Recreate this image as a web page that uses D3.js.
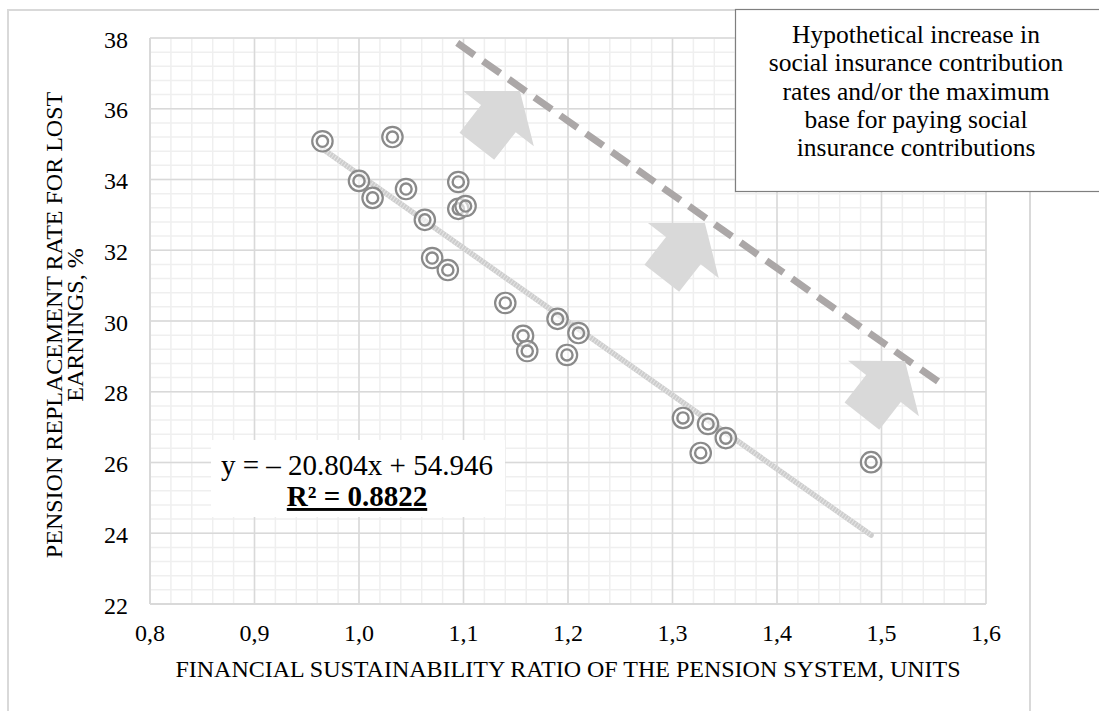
<!DOCTYPE html>
<html>
<head>
<meta charset="utf-8">
<script src="https://cdn.jsdelivr.net/npm/d3@7"></script>
<style>
  html, body { margin: 0; padding: 0; background: #fff; }
  svg { display: block; }
  text { font-family: "Liberation Serif", "Times New Roman", serif; fill: #000; }
</style>
</head>
<body>
<svg id="chart" width="1099" height="711"></svg>
<script>
// Financial sustainability ratio (x) vs pension replacement rate (y)
const sustainability = [0.965, 1.032, 1.000, 1.013, 1.045, 1.063, 1.095, 1.095, 1.102, 1.070, 1.085,
                        1.140, 1.157, 1.161, 1.190, 1.210, 1.199, 1.310, 1.334, 1.351, 1.327, 1.490];
const replacement    = [35.08, 35.20, 33.96, 33.48, 33.73, 32.86, 33.93, 33.17, 33.25, 31.78, 31.44,
                        30.51, 29.58, 29.15, 30.06, 29.66, 29.04, 27.26, 27.09, 26.69, 26.27, 26.01];

// Linear fit reported on the chart
const fitSlope = -20.804;
const fitIntercept = 54.946;
const fitR2 = 0.8822;

// Shifted frontier (hypothetical increase in contributions)
const frontierX = [1.094, 1.556];
const frontierY = [37.86, 28.25];

// Tips of the block arrows pointing towards the frontier
const arrowTipX = [1.154, 1.331, 1.5225];
const arrowTipY = [36.50, 32.77, 28.87];

const xTicks = [0.8, 0.9, 1.0, 1.1, 1.2, 1.3, 1.4, 1.5, 1.6];
const yTicks = [22, 24, 26, 28, 30, 32, 34, 36, 38];

const xTitle = "FINANCIAL SUSTAINABILITY RATIO OF THE PENSION SYSTEM, UNITS";
const yTitleLines = ["PENSION REPLACEMENT RATE FOR LOST", "EARNINGS, %"];
const noteLines = ["Hypothetical increase in", "social insurance contribution",
                   "rates and/or the maximum", "base for paying social",
                   "insurance contributions"];

const svg = d3.select("#chart");
const x = d3.scaleLinear().domain([0.8, 1.6]).range([150, 986]);
const y = d3.scaleLinear().domain([22, 38]).range([604, 38]);

// Outer chart frame
svg.append("rect").attr("x", 8).attr("y", 10).attr("width", 1022).attr("height", 730)
  .attr("fill", "#fff").attr("stroke", "#d9d9d9").attr("stroke-width", 2);

// Gridlines: minor then major
const grid = svg.append("g");
const xMinor = d3.range(0.8, 1.6001, 0.02);
const yMinor = d3.range(22, 38.001, 0.4);
grid.selectAll(".vmin").data(xMinor).join("line")
  .attr("x1", d => x(d)).attr("x2", d => x(d)).attr("y1", y(22)).attr("y2", y(38))
  .attr("stroke", "#efefef").attr("stroke-width", 1.5);
grid.selectAll(".hmin").data(yMinor).join("line")
  .attr("y1", d => y(d)).attr("y2", d => y(d)).attr("x1", x(0.8)).attr("x2", x(1.6))
  .attr("stroke", "#efefef").attr("stroke-width", 1.5);
grid.selectAll(".vmaj").data(xTicks).join("line")
  .attr("x1", d => x(d)).attr("x2", d => x(d)).attr("y1", y(22)).attr("y2", y(38))
  .attr("stroke", "#d9d9d9").attr("stroke-width", 1.5);
grid.selectAll(".hmaj").data(yTicks).join("line")
  .attr("y1", d => y(d)).attr("y2", d => y(d)).attr("x1", x(0.8)).attr("x2", x(1.6))
  .attr("stroke", "#d9d9d9").attr("stroke-width", 1.5);

// Axis lines
svg.append("line").attr("x1", x(0.8)).attr("x2", x(0.8)).attr("y1", y(22)).attr("y2", y(38))
  .attr("stroke", "#d9d9d9").attr("stroke-width", 2);
svg.append("line").attr("x1", x(0.8)).attr("x2", x(1.6)).attr("y1", y(22)).attr("y2", y(22))
  .attr("stroke", "#d9d9d9").attr("stroke-width", 2);

// Tick labels
svg.append("g").selectAll("text").data(yTicks).join("text")
  .attr("x", 128).attr("y", d => y(d)).attr("dy", "0.4em")
  .attr("text-anchor", "end").attr("font-size", 24).text(d => d);
svg.append("g").selectAll("text").data(xTicks).join("text")
  .attr("x", d => x(d)).attr("y", 641)
  .attr("text-anchor", "middle").attr("font-size", 24)
  .text(d => d.toFixed(1).replace(".", ","));

// Axis titles
svg.append("text").attr("x", x(1.2)).attr("y", 677).attr("text-anchor", "middle")
  .attr("font-size", 24).text(xTitle);
const yt = svg.append("text").attr("transform", "translate(62,325) rotate(-90)")
  .attr("text-anchor", "middle").attr("font-size", 24);
yTitleLines.forEach((t, i) => yt.append("tspan").attr("x", 0).attr("y", i * 21).text(t));

// Trend line over the data range
const xMin = d3.min(sustainability), xMax = d3.max(sustainability);
svg.append("line")
  .attr("x1", x(xMin)).attr("y1", y(fitSlope * xMin + fitIntercept))
  .attr("x2", x(xMax)).attr("y2", y(fitSlope * xMax + fitIntercept))
  .attr("stroke", "#cdcdcd").attr("stroke-width", 5.5).attr("stroke-linecap", "round");
svg.append("line")
  .attr("x1", x(xMin)).attr("y1", y(fitSlope * xMin + fitIntercept))
  .attr("x2", x(xMax)).attr("y2", y(fitSlope * xMax + fitIntercept))
  .attr("stroke", "#e4e4e4").attr("stroke-width", 5.5).attr("stroke-dasharray", "1,2");

// Double-ring markers
const pts = sustainability.map((v, i) => ({ x: v, y: replacement[i] }));
const mk = svg.append("g").selectAll("g").data(pts).join("g")
  .attr("transform", d => `translate(${x(d.x)},${y(d.y)})`);
mk.append("circle").attr("r", 10.2).attr("fill", "#fff").attr("fill-opacity", 0.6)
  .attr("stroke", "#8a8a8a").attr("stroke-width", 2.2);
mk.append("circle").attr("r", 5.6).attr("fill", "none")
  .attr("stroke", "#8a8a8a").attr("stroke-width", 2.4);

// Dashed frontier
svg.append("line")
  .attr("x1", x(frontierX[0])).attr("y1", y(frontierY[0]))
  .attr("x2", x(frontierX[1])).attr("y2", y(frontierY[1]))
  .attr("stroke", "#aba7a7").attr("stroke-width", 7).attr("stroke-dasharray", "21,10.5");

// Block arrows (shape along +x with tip at origin, then rotated)
const L = 70, h = 35, hw = 45, s = 22;
const arrowShape = [[0, 0], [-h, -hw], [-h, -s], [-L, -s], [-L, s], [-h, s], [-h, hw]];
svg.append("g").selectAll("path").data(arrowTipX.map((v, i) => ({ x: v, y: arrowTipY[i] })))
  .join("path")
  .attr("d", "M" + arrowShape.map(p => p.join(",")).join("L") + "Z")
  .attr("transform", d => `translate(${x(d.x)},${y(d.y)}) rotate(-52)`)
  .attr("fill", "#d9d9d9");

// Equation label
svg.append("rect").attr("x", 211).attr("y", 440).attr("width", 294).attr("height", 77).attr("fill", "#fff");
svg.append("text").attr("x", 357).attr("y", 475).attr("text-anchor", "middle")
  .attr("font-size", 29).text(`y = – ${Math.abs(fitSlope).toFixed(3)}x + ${fitIntercept.toFixed(3)}`);
svg.append("text").attr("x", 357).attr("y", 506).attr("text-anchor", "middle")
  .attr("font-size", 29).attr("font-weight", "bold").attr("text-decoration", "underline")
  .text(`R² = ${fitR2.toFixed(4)}`);

// Annotation box
svg.append("rect").attr("x", 735.5).attr("y", 9.5).attr("width", 370).attr("height", 182)
  .attr("fill", "#fff").attr("stroke", "#7f7f7f").attr("stroke-width", 1.2);
svg.append("g").selectAll("text").data(noteLines).join("text")
  .attr("x", 916).attr("y", (d, i) => 43 + i * 28.3)
  .attr("text-anchor", "middle").attr("font-size", 25.5).text(d => d);
</script>
</body>
</html>
